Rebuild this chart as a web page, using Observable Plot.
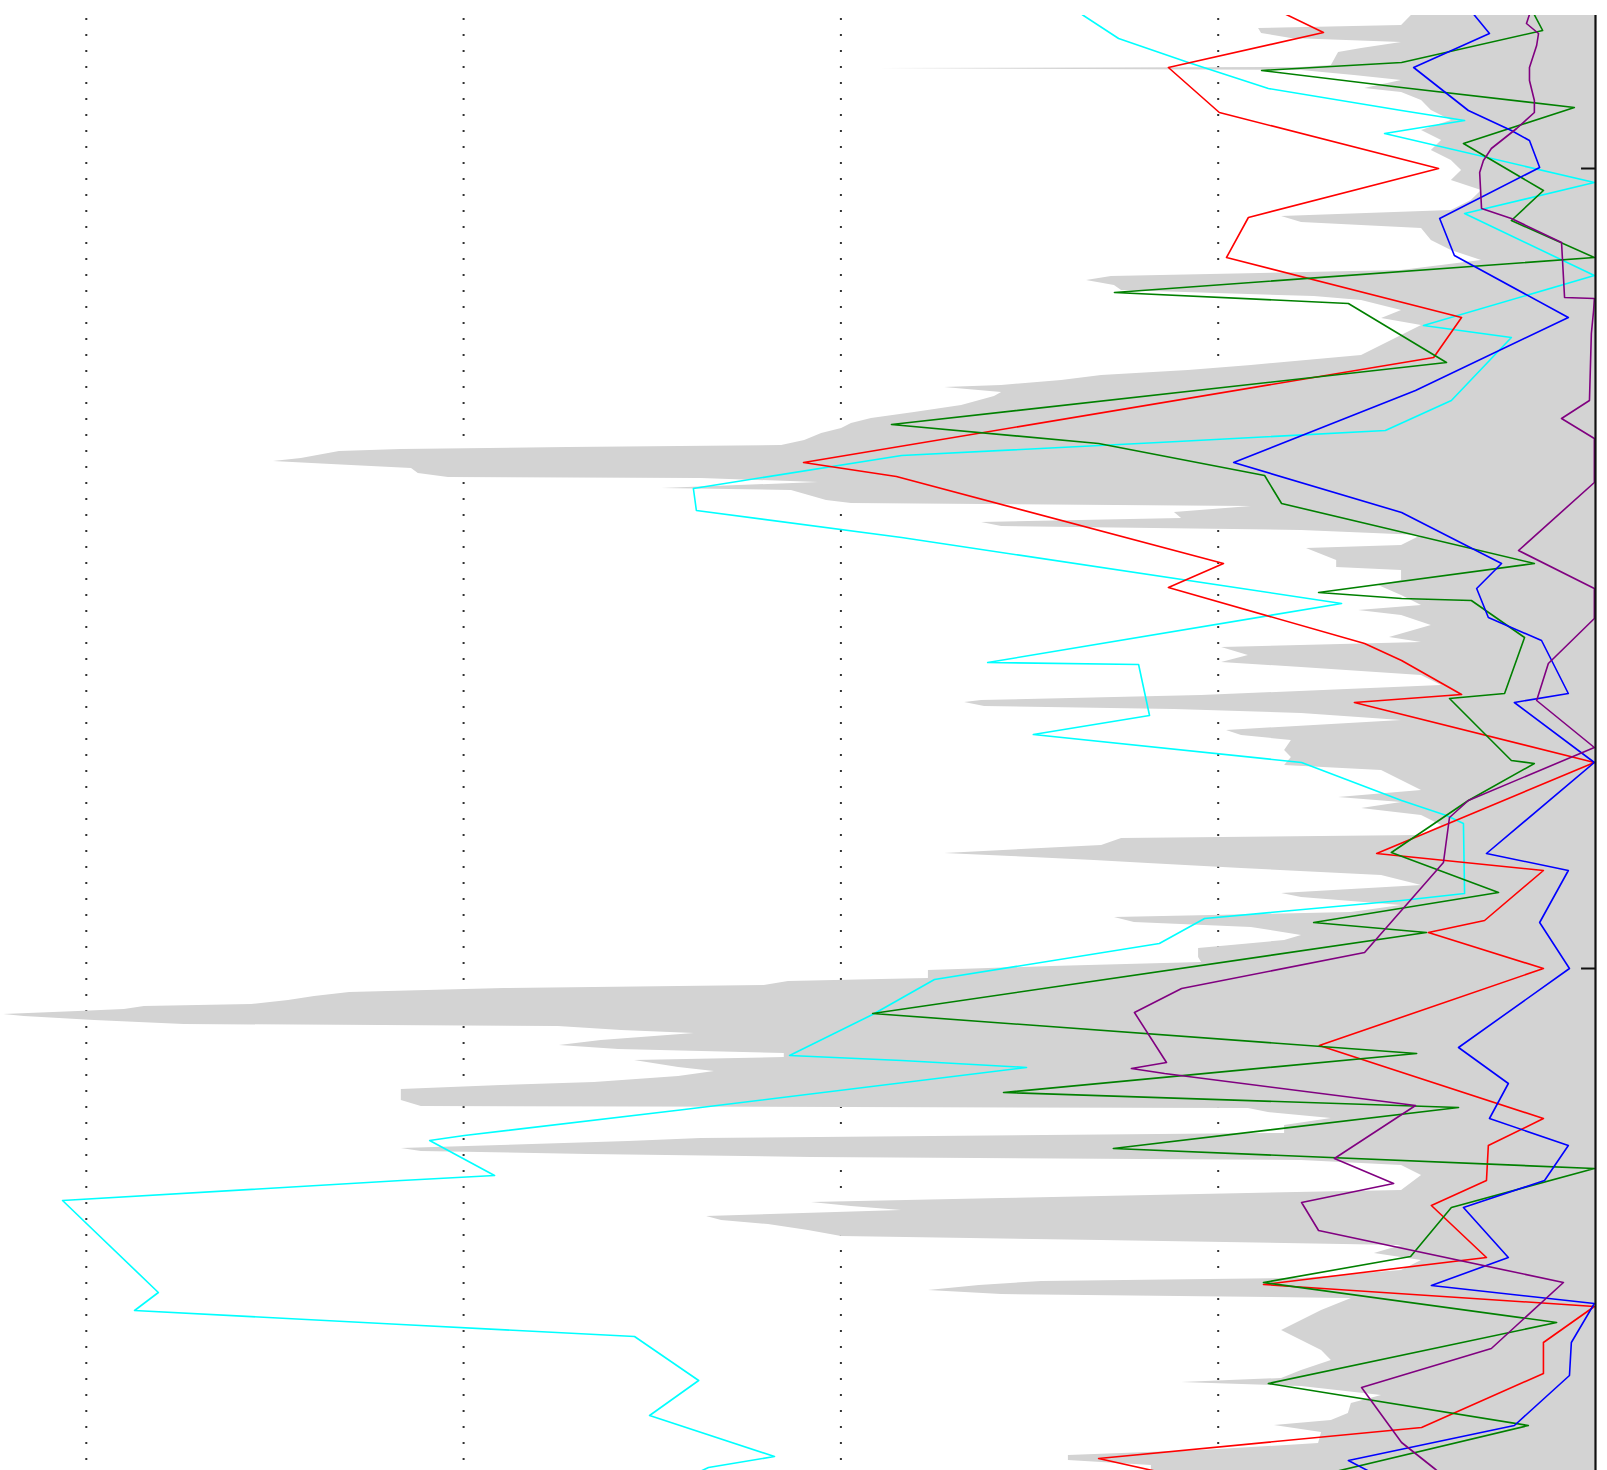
<!DOCTYPE html>
<html><head><meta charset="utf-8">
<script src="https://cdn.jsdelivr.net/npm/d3@7"></script>
<script src="https://cdn.jsdelivr.net/npm/@observablehq/plot@0.6"></script>
<style>html,body{margin:0;padding:0;background:#fff}#chart svg{display:block}</style>
</head><body><div id="chart"></div>
<script>
// Value axis (increasing to the left), gridline values and depth ticks
const gridValues = [1, 2, 3, 4];
const depthTicks = [100, 200];

// Gray envelope: [depth, value]
const envelope = [[80.875,0.488],[82.125,0.514],[82.5,0.893],[83.125,0.885],[83.75,0.806],[84.25,0.514],[85,0.62],[85.5,0.681],[87.125,0.7],[87.375,0.779],[87.5,1.903],[87.75,0.779],[88.375,0.639],[89,0.514],[90,0.612],[90.5,0.514],[91.5,0.461],[92.75,0.435],[94,0.382],[95.25,0.461],[96.5,0.408],[97.75,0.435],[99,0.382],[100.25,0.355],[101.5,0.382],[102.75,0.302],[104,0.329],[105.25,0.382],[106,0.832],[106.75,0.779],[107.5,0.461],[109,0.435],[110.25,0.382],[111.5,0.302],[112.75,0.514],[113.5,1.283],[114,1.349],[114.625,1.275],[115.25,1.256],[116,0.745],[116.5,0.62],[117.75,0.514],[118.75,0.567],[119.625,0.461],[120.875,0.514],[122.125,0.567],[123.375,0.62],[124.625,0.912],[125.25,1.079],[125.875,1.309],[126.5,1.415],[127.125,1.574],[127.375,1.725],[128,1.574],[128.5,1.593],[129.625,1.68],[130.5,1.805],[131.25,1.919],[131.875,1.972],[132.5,1.998],[133.125,2.051],[134,2.096],[134.625,2.157],[134.875,2.722],[135.125,3.165],[135.375,3.329],[136.25,3.43],[136.625,3.504],[137,3.35],[137.5,3.138],[138.125,3.12],[138.625,3.04],[138.75,2.37],[139.25,2.059],[140,2.475],[140.25,2.131],[141.5,2.038],[141.875,1.972],[142.25,0.912],[143,1.116],[143.75,1.097],[144.25,1.627],[144.75,1.574],[145.25,0.779],[145.875,0.461],[147.125,0.514],[147.5,0.766],[149,0.686],[149.875,0.686],[150.25,0.514],[151.5,0.514],[152.125,0.575],[153.375,0.514],[154.625,0.461],[155.25,0.628],[155.875,0.514],[157.125,0.435],[158.625,0.546],[159.25,0.461],[159.875,0.991],[160.875,0.92],[161.75,0.991],[162.375,0.779],[163.375,0.461],[164.625,0.408],[165.875,1.044],[166.5,1.627],[166.75,1.672],[167.25,1.619],[167.625,1.116],[168.125,0.779],[169,0.514],[170.25,0.978],[170.875,0.938],[171.5,0.806],[172.75,0.824],[173.625,0.806],[174.625,0.824],[175.25,0.567],[176.5,0.514],[177.75,0.461],[178.625,0.681],[179.25,0.514],[180,0.62],[180.875,0.461],[182.125,0.408],[183.375,0.461],[183.75,1.256],[184.625,1.309],[185.625,1.725],[186,1.548],[186.5,1.328],[186.875,1.185],[187.5,0.938],[188.375,0.567],[189.625,0.461],[190.625,0.832],[191.125,0.779],[192.125,0.514],[193,0.647],[193.625,1.275],[194.25,1.222],[194.875,0.912],[195.875,0.779],[196.5,0.824],[197.5,1.052],[198.625,1.052],[199.25,1.044],[199.75,1.442],[200.25,1.768],[201.25,1.768],[201.625,2.139],[202.125,2.203],[202.5,2.892],[203,3.302],[203.5,3.395],[204,3.464],[204.5,3.562],[204.75,3.846],[205.125,3.899],[205.375,4.021],[205.75,4.219],[206,4.164],[206.5,3.978],[207,3.74],[207.25,2.749],[207.75,2.581],[208.125,2.388],[209,2.635],[209.625,2.746],[210.125,2.589],[210.625,2.15],[211.125,2.15],[211.5,2.547],[212.375,2.43],[212.875,2.335],[213.5,2.43],[214.25,2.653],[214.625,2.9],[215.125,3.165],[216.5,3.165],[217.25,3.112],[217.5,0.92],[218,0.867],[218.75,0.7],[219.625,0.824],[220.625,0.824],[221.25,2.37],[221.625,2.563],[222.125,2.9],[222.5,3.165],[222.875,3.112],[223.25,2.669],[223.625,2.078],[224,0.779],[224.625,0.514],[225.875,0.461],[227.75,0.514],[228.75,1.574],[229.25,2.078],[229.75,1.972],[230.25,1.839],[231,2.356],[231.5,2.316],[232,2.192],[232.75,2.086],[233.5,1.998],[234,1.309],[234.625,0.514],[235.625,0.586],[236.5,0.461],[237.75,0.514],[238.75,0.779],[239.125,1.468],[239.625,1.633],[240.25,1.768],[240.75,1.574],[241.25,0.647],[242.75,0.726],[244,0.779],[245.25,0.832],[246.5,0.779],[247.75,0.726],[249,0.7],[250.25,0.779],[251.25,0.832],[251.75,1.097],[252.25,0.779],[253.375,0.567],[254.375,0.647],[255.625,0.655],[256.5,0.7],[257.125,0.851],[258,0.726],[259.375,0.734],[260.25,1.044],[260.875,1.397],[261.5,1.397],[262.125,1.177],[263,1.177]];

// Colored profiles: [depth, value]
const cyan = [[79,1.415],[80.875,1.357],[83.75,1.264],[86.75,1.079],[90,0.867],[92.75,0.514],[94,0.347],[95.625,0.559],[101.75,0.003],[105.625,0.347],[113.375,0.003],[119.625,0.456],[121.125,0.223],[129,0.382],[132.75,0.557],[134.25,1.158],[135.875,1.839],[140,2.391],[142.75,2.383],[146.125,1.839],[154.375,0.673],[161.75,1.611],[162,1.211],[168.375,1.182],[170.75,1.49],[174.25,0.779],[179,0.514],[180.875,0.395],[181.875,0.35],[190.625,0.347],[191.5,0.514],[193.75,1.036],[196.875,1.156],[201.375,1.752],[205.75,1.916],[210.875,2.136],[211.5,1.839],[212.375,1.508],[217.625,2.415],[220.875,2.998],[221.5,3.09],[225.875,2.918],[226.5,3.165],[229,4.063],[240.5,3.809],[242.75,3.872],[244.5,3.165],[246,2.547],[251.5,2.377],[255.875,2.507],[261,2.176],[262.375,2.351],[263.375,2.396]];
const red = [[79.625,0.869],[83,0.721],[87.375,1.132],[93,0.997],[100,0.416],[106.125,0.92],[111.125,0.978],[118.625,0.355],[123.625,0.429],[136.75,2.099],[138.5,1.853],[149.375,0.986],[152.375,1.132],[159.375,0.612],[161.5,0.514],[165.75,0.355],[166.75,0.639],[174.25,0.003],[185.625,0.58],[187.75,0.138],[194,0.294],[195.5,0.443],[200,0.138],[209.625,0.732],[218.75,0.138],[222.125,0.284],[226.5,0.289],[229.625,0.435],[236.125,0.289],[239.5,0.88],[242.25,0.003],[246.75,0.138],[250.625,0.138],[257.375,0.461],[261.25,1.317],[263,1.15]];
const green = [[79.625,0.175],[82.75,0.14],[86.75,0.514],[87.75,0.885],[89.875,0.514],[92.375,0.056],[96.875,0.35],[102.75,0.138],[106.5,0.223],[111.125,0.003],[115.5,1.275],[116.875,0.655],[124.25,0.395],[132,1.866],[134.375,1.317],[138.375,0.877],[140.25,0.853],[141.875,0.832],[149.375,0.162],[153,0.734],[153.75,0.514],[154,0.329],[158.625,0.188],[165.625,0.241],[166.25,0.387],[174,0.223],[174.375,0.162],[179,0.337],[185.5,0.541],[190.5,0.257],[194.25,0.747],[195.5,0.448],[205.625,1.916],[210.625,0.474],[215.5,1.569],[217.375,0.363],[222.5,1.278],[225,0.003],[229.875,0.382],[236,0.49],[239.25,0.88],[244.25,0.103],[251.875,0.867],[257.125,0.178],[263,0.7]];
const blue = [[79.625,0.342],[83.125,0.281],[87.375,0.482],[92.75,0.337],[95.25,0.223],[96.5,0.175],[99.875,0.148],[106.25,0.413],[110.875,0.374],[118.625,0.072],[127.75,0.477],[136.75,0.959],[143,0.514],[149.375,0.249],[152.5,0.315],[156.125,0.284],[159,0.143],[165.625,0.072],[166.75,0.215],[174.25,0.003],[185.625,0.289],[187.75,0.072],[194.25,0.148],[200,0.069],[209.875,0.363],[214.375,0.231],[218.75,0.281],[222.125,0.072],[226.5,0.135],[229.875,0.35],[236.125,0.231],[239.625,0.435],[241.875,0.003],[246.75,0.064],[250.875,0.069],[257.125,0.215],[261.5,0.655],[263,0.594]];
const purple = [[79.625,0.167],[81.875,0.183],[83.125,0.151],[84.625,0.156],[87.375,0.175],[89,0.175],[91.5,0.162],[93,0.162],[95,0.209],[97.5,0.276],[99,0.297],[100.5,0.307],[105,0.302],[106.25,0.223],[109.25,0.09],[116.125,0.082],[116.25,0.003],[117.75,0.005],[120.625,0.011],[129,0.016],[131.25,0.09],[133.75,0.003],[139.25,0.003],[147.75,0.204],[152.5,0.003],[156.25,0.003],[161.875,0.125],[166.5,0.156],[172.375,0.003],[179,0.337],[181.125,0.387],[186.75,0.403],[198,0.612],[202.5,1.097],[205.5,1.222],[211.75,1.137],[212.5,1.23],[213.125,1.142],[217.125,0.477],[223.75,0.692],[226.875,0.535],[229.25,0.779],[232.75,0.734],[239.25,0.085],[247.5,0.276],[252.375,0.62],[259.25,0.514],[262.5,0.427],[263.75,0.395]];

const seriesNames = ["cyan", "red", "green", "blue", "purple"];
const seriesColors = ["#00ffff", "#ff0000", "#008000", "#0000ff", "#800080"];
const seriesData = [cyan, red, green, blue, purple];

const lineRows = seriesData.flatMap((pts, k) => pts.map(([depth, value]) => ({series: seriesNames[k], depth, value})));
const envRows = envelope.map(([depth, value]) => ({depth, value}));

const chart = Plot.plot({
  width: 1607,
  height: 1470,
  marginTop: 15,
  marginBottom: 0,
  marginLeft: 0,
  marginRight: 12,
  style: {background: "#ffffff"},
  x: {domain: [4.2274, 0], axis: null},
  y: {domain: [80.875, 262.75], reverse: true, axis: null},
  color: {domain: seriesNames, range: seriesColors},
  marks: [
    Plot.ruleX(gridValues, {stroke: "#333", strokeWidth: 2, strokeDasharray: "2,14", strokeDashoffset: -3}),
    Plot.areaX(envRows, {x1: 0, x2: "value", y: "depth", fill: "#d3d3d3", clip: true}),
    Plot.line(lineRows, {x: "value", y: "depth", z: "series", stroke: "series", strokeWidth: 1.6, clip: true}),
    Plot.ruleX([0], {stroke: "#111", strokeWidth: 2.2}),
    Plot.ruleY(depthTicks, {x1: 0, x2: 0.037, stroke: "#111", strokeWidth: 2})
  ]
});
document.getElementById("chart").appendChild(chart);
</script>
</body></html>
